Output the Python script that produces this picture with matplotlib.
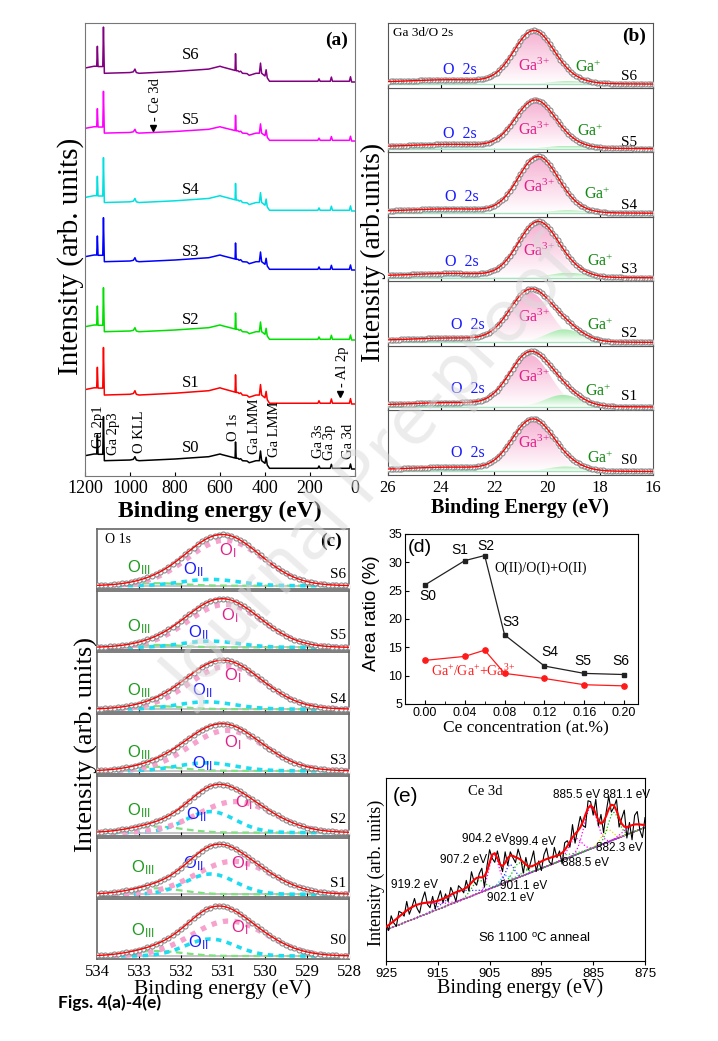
import numpy as np
import matplotlib.pyplot as plt
from matplotlib.colors import LinearSegmentedColormap
from matplotlib.ticker import MultipleLocator

W, H = 718, 1041
SERIF = ['Liberation Serif', 'DejaVu Serif']
SANS = ['Liberation Sans', 'DejaVu Sans']

plt.rcParams['font.family'] = SERIF
plt.rcParams['mathtext.fontset'] = 'custom'
plt.rcParams['mathtext.rm'] = 'Liberation Serif'
plt.rcParams['mathtext.sf'] = 'Liberation Sans'
plt.rcParams['mathtext.it'] = 'Liberation Serif:italic'
plt.rcParams['mathtext.bf'] = 'Liberation Serif:bold'

samples = ['S0', 'S1', 'S2', 'S3', 'S4', 'S5', 'S6']

survey_be = [1200, 1160, 1148, 1145, 1142, 1128, 1121, 1118, 1114, 1000, 985, 978, 972, 960,
             800, 650, 600, 590, 545, 533, 531, 528, 520, 515, 508, 500, 480, 470, 440, 425,
             420, 415, 400, 395, 390, 380, 165, 160, 155, 110, 105, 100, 25, 20, 15, 0]
survey_int = [13.3, 15, 15, 34, 14.7, 14.7, 14.7, 52.3, 8.3, 9, 9.7, 12.3, 9, 8.3,
              10, 12.3, 15, 14.3, 11.7, 11, 27, 10.7, 10.7, 9.7, 10.3, 8.3, 8, 6.3, 8.3, 8.3,
              18, 8.3, 5.7, 11.7, 4, 0.7, 0.7, 3, 0.7, 0.7, 4.7, 0.7, 0.7, 5, 0, 0]
survey_colors = ['black', '#ff0000', '#00e000', '#0000ff', '#00e0e0', '#ff00ff', '#800080']
survey_offset = [7, 72, 136, 206, 265, 335, 394]
survey_scale = [1.0, 1.08, 1.0, 1.0, 1.02, 0.95, 1.05]
survey_label_y = [28, 93, 156, 224, 286, 356, 421]
peak_names = ['Ga 2p1', 'Ga 2p3', 'O KLL', 'O 1s', 'Ga LMM', 'Ga LMM', 'Ga 3s', 'Ga 3p', 'Ga 3d']
peak_name_be = [1140, 1073, 958, 540, 447, 358, 164, 112, 30]
peak_name_y = [49, 42, 44, 49, 50, 47, 35, 34, 35]

# ---- (b) Ga 3d / O 2s fits
ga3_pos = [20.55, 20.65, 20.65, 20.35, 20.35, 20.45, 20.5]
ga3_amp = [50.5, 52, 50, 54, 55, 47, 52]
ga3_fwhm = [1.8, 1.8, 1.8, 1.75, 1.75, 1.75, 1.75]
gap_pos = [19.3, 19.4, 19.35, 19.2, 19.2, 19.2, 19.2]
gap_amp = [5, 12, 13, 5, 3, 3, 3]
gap_fwhm = [1.6, 1.6, 1.6, 1.6, 1.6, 1.6, 1.6]
o2s_pos = [23.5, 23.5, 23.5, 23.5, 23.5, 23.5, 23.5]
o2s_amp = [3, 3, 3, 3, 3, 3, 3]
o2s_fwhm = [3.5, 3.5, 3.5, 3.5, 3.5, 3.5, 3.5]
b_o2s_x = [22.98, 22.98, 22.98, 23.2, 23.2, 23.3, 23.3]
b_o2s_y = [22.3, 21, 20.7, 19.3, 19.3, 18.3, 17.7]
b_ga3_x = [20.5, 20.5, 20.5, 20.3, 20.3, 20.5, 20.5]
b_ga3_y = [31.7, 32.7, 28.3, 30, 29.3, 21.7, 21.7]
b_gap_x = [18.0, 18.05, 18.0, 18.0, 18.1, 18.35, 18.45]
b_gap_y = [16.7, 18.3, 20, 20, 21.7, 20, 19.4]
b_s_y = [14, 14.3, 12.3, 12, 11, 10, 11]

# ---- (c) O 1s fits
oi_pos = [530.85, 530.75, 530.7, 530.9, 530.9, 530.95, 530.95]
oi_amp = [35, 33, 31, 40.5, 43, 43, 45.5]
oi_fwhm = [2.1, 2.1, 2.1, 2.1, 2.1, 2.1, 2.1]
oii_pos = [531.3, 531.3, 531.3, 531.4, 531.4, 531.3, 531.3]
oii_amp = [17, 20.3, 21, 8, 7.3, 6.3, 6.3]
oii_fwhm = [1.4, 1.4, 1.4, 1.6, 1.6, 1.6, 1.6]
oiii_pos = [532.6, 532.6, 532.6, 532.6, 532.6, 532.6, 532.6]
oiii_amp = [5, 6, 6, 4, 3, 2.5, 2.5]
oiii_fwhm = [1.5, 1.5, 1.5, 1.5, 1.5, 1.5, 1.5]
c_oiii_x = [532.9, 532.9, 533.0, 533.0, 533.0, 533.0, 533.0]
c_oiii_y = [28.3, 29.3, 25, 21.7, 21.7, 23.3, 21]
c_oii_x = [531.6, 531.7, 531.65, 531.5, 531.5, 531.6, 531.7]
c_oii_y = [16, 33.3, 20.7, 10.7, 21, 17.3, 18.7]
c_oi_x = [530.6, 530.6, 530.5, 530.76, 530.76, 530.85, 530.88]
c_oi_y = [31.7, 34, 33.3, 31.7, 36, 35, 37.7]
c_s_y = [18.3, 14, 16, 13.3, 12.7, 15, 14.3]

# ---- (d) area ratios
ce_conc = [0.00, 0.04, 0.06, 0.08, 0.12, 0.16, 0.20]
oii_ratio = [26.0, 30.3, 31.2, 17.2, 11.7, 10.4, 10.2]
gap_ratio = [12.7, 13.4, 14.5, 10.4, 9.5, 8.4, 8.2]
d_ticks = [0.00, 0.04, 0.08, 0.12, 0.16, 0.20]
d_lab_x = [0.0033, 0.0347, 0.0612, 0.0858, 0.1256, 0.1587, 0.1967]
d_lab_y = [24.0, 32.2, 32.8, 19.55, 14.2, 12.6, 12.5]

# ---- (e) Ce 3d, S6
ce_pos = [919.2, 911.0, 907.2, 904.2, 902.1, 901.1, 899.4, 894.0, 888.5, 885.5, 882.3, 881.1, 877.5]
ce_amp = [7, 5, 7, 18, 4, 9, 8, 4, 9, 23, 7, 15, 4]
ce_fwhm = [8, 6, 3, 2.2, 2, 2, 2.5, 8, 3, 3, 2.5, 2.5, 4]
ce_base = [17, 73]          # straight background at 925 and 875 eV
ce_resid = [2, -3, 4, -1, -4, 3, 1, -2, 5, -3,
            0, 4, -2, -5, 2, 6, -1, -3, 3, -4,
            1, 5, -2, 2, -3, 4, 0, -5, 3, 1,
            -2, 4, -3, 6, -1, -4, 2, 5, -6, 3,
            7, -2, -5, 4, 1, -3, 6, -4, 2, -1,
            -3, 5, 1, -6, 4, -2, 3, 8, -4, 1,
            -5, 3, 6, -2, -4, 5, -1, 2, -6, 4,
            3, -3, 7, -5, 1, 6, -2, -7, 4, 2,
            -4, 8, -3, 5, -6, 2, 7, -4, -1, 6,
            -5, 3, 9, -6, 2, -8, 5, 7, -3, -7, 4]
e_labels = ['885.5 eV', '881.1 eV', '904.2 eV', '899.4 eV', '907.2 eV', '888.5 eV',
            '882.3 eV', '901.1 eV', '902.1 eV', '919.2 eV']
e_lab_x = [888.3, 878.6, 905.8, 896.8, 910.0, 886.5, 879.9, 898.4, 901.0, 919.5]
e_lab_y = [90.9, 90.9, 66.5, 65.0, 55.0, 53.8, 61.5, 41.0, 34.5, 41.5]


def box(l, t, r, b):
    return [l / W, 1 - b / H, (r - l) / W, (b - t) / H]


def peak(x, c, h, w):
    # gaussian component used by the fits
    return h * np.exp(-4 * np.log(2) * ((x - c) / w) ** 2)


def grad_fill(ax, x, y0, y1, color, z):
    cmap = LinearSegmentedColormap.from_list('g', ['white', color])
    poly = ax.fill_between(x, y0, y1, color='none', lw=0)
    img = ax.imshow(np.linspace(0, 1, 64).reshape(-1, 1), cmap=cmap, aspect='auto',
                    origin='lower', extent=[x.min(), x.max(), np.min(y0), np.max(y1)],
                    zorder=z, interpolation='bilinear')
    img.set_clip_path(poly.get_paths()[0], transform=ax.transData)


fig = plt.figure(figsize=(W / 100, H / 100), dpi=100)

# ================= (a)
ax = fig.add_axes(box(85, 23, 355, 476))
for i in range(7):
    y = survey_offset[i] + survey_scale[i] * np.array(survey_int)
    ax.plot(survey_be, y, color=survey_colors[i], lw=1.1)
    ax.text(730, survey_label_y[i], samples[i], fontsize=12, ha='center', va='center')
for name, xb, yb in zip(peak_names, peak_name_be, peak_name_y):
    ax.text(xb, yb, name, rotation=90, fontsize=10.5, ha='center', va='center')
ax.text(887, 376, '- Ce 3d', rotation=90, fontsize=10.5, ha='center', va='center')
ax.plot([897], [348], marker='v', color='k', ms=4.5)
ax.text(57, 109, '- Al 2p', rotation=90, fontsize=10.5, ha='center', va='center')
ax.plot([67], [82], marker='v', color='k', ms=4.5)
ax.text(0.93, 0.962, '(a)', transform=ax.transAxes, fontsize=14, fontweight='bold',
        ha='center', va='center')
ax.set_xlim(1200, 0)
ax.set_ylim(0, 453)
ax.set_xticks([1200, 1000, 800, 600, 400, 200, 0])
ax.set_yticks([])
ax.tick_params(axis='x', direction='in', length=3, labelsize=13, pad=3)
for s in ax.spines.values():
    s.set_color('#777777')
fig.text(220 / W, 1 - 511 / H, 'Binding energy (eV)', fontsize=17, fontweight='bold',
         ha='center', va='center')
fig.text(71 / W, 1 - 256 / H, 'Intensity (arb. units)', fontsize=21, rotation=90,
         ha='center', va='center')

# ================= (b)
xb = np.arange(16, 26.001, 0.1)
hb = (475 - 23) / 7
for i in range(7):
    top = 23 + (6 - i) * hb
    ax = fig.add_axes(box(388, top, 653, top + hb))
    base = 3.5
    bg = 0.18 * (xb - 16)
    ga3 = peak(xb, ga3_pos[i], ga3_amp[i], ga3_fwhm[i])
    gap = peak(xb, gap_pos[i], gap_amp[i], gap_fwhm[i])
    o2s = peak(xb, o2s_pos[i], o2s_amp[i], o2s_fwhm[i])
    env = base + bg + ga3 + gap + o2s
    ax.fill_between(xb, base, base + o2s + bg, color='#cff5f5', lw=0, zorder=1)
    grad_fill(ax, xb, np.full_like(xb, base), base + ga3, '#f6b3d3', 2)
    grad_fill(ax, xb, np.full_like(xb, base), base + gap, '#a6e9ad', 3)
    ax.plot(xb, np.full_like(xb, base), color='#a8e0c0', lw=1.0, zorder=3)
    ax.plot(xb, env, 'o', ms=3.6, mfc='white', mec='#8a8a8a', mew=0.8, zorder=4)
    ax.plot(xb, env, color='red', lw=1.0, zorder=5)
    ax.text(b_o2s_x[i], b_o2s_y[i], 'O  2s', color='#1a1aff', fontsize=11.5, ha='center', va='center')
    ax.text(b_ga3_x[i], b_ga3_y[i], r'Ga$^{3{+}}$', color='#e0208a', fontsize=11.5, ha='center', va='center')
    ax.text(b_gap_x[i], b_gap_y[i], r'Ga$^{+}$', color='#138a13', fontsize=11.5, ha='center', va='center')
    ax.text(16.9, b_s_y[i], samples[i], fontsize=11, ha='center', va='center')
    if i == 6:
        ax.text(0.02, 0.84, 'Ga 3d/O 2s', transform=ax.transAxes, fontsize=9.5, va='center')
        ax.text(0.93, 0.8, '(b)', transform=ax.transAxes, fontsize=14, fontweight='bold',
                ha='center', va='center')
    ax.set_xlim(26, 16)
    ax.set_ylim(0, hb)
    ax.set_xticks([26, 24, 22, 20, 18, 16])
    ax.set_yticks([])
    ax.tick_params(axis='x', direction='in', length=3, labelsize=12, labelbottom=(i == 0))
    for s in ax.spines.values():
        s.set_color('#555555')
fig.text(520 / W, 1 - 508 / H, 'Binding Energy (eV)', fontsize=14.5, fontweight='bold',
         ha='center', va='center')
fig.text(373 / W, 1 - 252 / H, 'Intensity (arb.units)', fontsize=20, rotation=90,
         ha='center', va='center')

# ================= (c)
xc = np.arange(528, 534.001, 0.1)
hc = (960 - 528) / 7
for i in range(7):
    top = 528 + (6 - i) * hc
    ax = fig.add_axes(box(97, top + 1, 349, top + hc - 1))
    base = 3.0
    oi = peak(xc, oi_pos[i], oi_amp[i], oi_fwhm[i])
    oii = peak(xc, oii_pos[i], oii_amp[i], oii_fwhm[i])
    oiii = peak(xc, oiii_pos[i], oiii_amp[i], oiii_fwhm[i])
    env = base + oi + oii + oiii
    ax.plot(xc, np.full_like(xc, base), color='#bbbbbb', lw=1.2, zorder=1)
    ax.plot(xc, base + oiii, color='#80e080', lw=1.6, dashes=(3, 2), zorder=2)
    ax.plot(xc, base + oii, color='#1edcf0', lw=2.6, dashes=(1.5, 1.5), zorder=2)
    ax.plot(xc, base + oi, color='#f6a2cd', lw=3.8, dashes=(1.0, 1.2), zorder=2)
    ax.plot(xc, env, 'o', ms=3.6, mfc='white', mec='#8a8a8a', mew=0.8, zorder=4)
    ax.plot(xc, env, color='red', lw=1.0, zorder=5)
    ax.text(c_oiii_x[i], c_oiii_y[i], r'$\mathsf{O_{III}}$', color='#1e9a1e', fontsize=12,
            ha='center', va='center')
    ax.text(c_oii_x[i], c_oii_y[i], r'$\mathsf{O_{II}}$', color='#1a1aff', fontsize=12,
            ha='center', va='center')
    ax.text(c_oi_x[i], c_oi_y[i], r'$\mathsf{O_{I}}$', color='#e0208a', fontsize=12,
            ha='center', va='center')
    ax.text(528.26, c_s_y[i], samples[i], fontsize=11, ha='center', va='center')
    if i == 6:
        ax.text(0.03, 0.82, 'O 1s', transform=ax.transAxes, fontsize=10, va='center')
        ax.text(0.93, 0.8, '(c)', transform=ax.transAxes, fontsize=14, fontweight='bold',
                ha='center', va='center')
    ax.set_xlim(534, 528)
    ax.set_ylim(0, hc - 2)
    ax.set_xticks([534, 533, 532, 531, 530, 529, 528])
    ax.set_yticks([])
    ax.tick_params(axis='x', direction='in', length=3, labelsize=12, labelbottom=(i == 0))
    for s in ax.spines.values():
        s.set_color('#666666')
        s.set_linewidth(1.2)
fig.text(223 / W, 1 - 989 / H, 'Binding energy (eV)', fontsize=15.5, ha='center', va='center')
fig.text(86 / W, 1 - 745 / H, 'Intensity (arb. units)', fontsize=19, rotation=90,
         ha='center', va='center')

# ================= (d)
ax = fig.add_axes(box(405, 534, 638, 704))
ax.plot(ce_conc, oii_ratio, '-s', color='#222222', ms=3.5, lw=0.9)
ax.plot(ce_conc, gap_ratio, '-o', color='#ff1a1a', ms=3.8, lw=0.9)
for s, xl, yl in zip(samples, d_lab_x, d_lab_y):
    ax.text(xl, yl, s, family=SANS, fontsize=10, ha='center', va='center')
ax.text(0.0694, 29.0, 'O(II)/O(I)+O(II)', fontsize=10, ha='left', va='center')
ax.text(0.0066, 10.9, r'Ga$^{+}$/Ga$^{+}$+Ga$^{3{+}}$', color='#ff1a1a', fontsize=10,
        ha='left', va='center')
ax.text(-0.005, 32.6, '(d)', family=SANS, fontsize=14, ha='center', va='center')
ax.set_xlim(-0.02, 0.214)
ax.set_ylim(5, 35)
ax.set_xticks(d_ticks)
ax.xaxis.set_minor_locator(MultipleLocator(0.02))
ax.set_yticks([5, 10, 15, 20, 25, 30, 35])
ax.set_xticklabels(['%.2f' % t for t in d_ticks])
for lab in ax.get_xticklabels() + ax.get_yticklabels():
    lab.set_family(SANS)
ax.tick_params(labelsize=9, length=3, direction='in', pad=2)
ax.tick_params(which='minor', length=2, direction='in')
fig.text(526 / W, 1 - 728 / H, 'Ce concentration (at.%)', fontsize=12.5, ha='center', va='center')
fig.text(371 / W, 1 - 613 / H, 'Area ratio (%)', family=SANS, fontsize=13.5, rotation=90,
         ha='center', va='center')

# ================= (e)
ax = fig.add_axes(box(386, 778, 645, 961))
xe = np.linspace(925, 875, len(ce_resid))
base_e = ce_base[0] + (ce_base[1] - ce_base[0]) * (925 - xe) / 50
comp_colors = ['#ff00ff', '#3030ff', '#00c000', '#ff00ff', '#00d0d0', '#3030ff',
               '#00c000', '#33cc33', '#ff00ff', '#ff00ff', '#e0e000', '#00c000', '#ff00ff']
fit_e = base_e.copy()
for c, h, w, col in zip(ce_pos, ce_amp, ce_fwhm, comp_colors):
    comp = peak(xe, c, h, w)
    fit_e += comp
    ax.plot(xe, base_e + comp, color=col, lw=0.9, ls=':', zorder=2)
ax.plot(xe, base_e, color='#a8a8a8', lw=1.0, zorder=1)
ax.plot(xe, fit_e + np.array(ce_resid), color='black', lw=0.8, zorder=3)
ax.plot(xe, fit_e, color='#ff0000', lw=1.5, zorder=4)
for t, xl, yl in zip(e_labels, e_lab_x, e_lab_y):
    ax.text(xl, yl, t, family=SANS, fontsize=8.5, ha='center', va='center')
ax.text(905.8, 92.7, 'Ce 3d', fontsize=10.5, ha='center', va='center')
ax.text(896.4, 12.7, r'S6 1100 $^{\mathsf{o}}$C anneal', family=SANS, fontsize=9.5,
        ha='center', va='center')
ax.text(0.075, 0.9, '(e)', transform=ax.transAxes, family=SANS, fontsize=15,
        ha='center', va='center')
ax.set_xlim(925, 875)
ax.set_ylim(0, 100)
ax.set_xticks([925, 915, 905, 895, 885, 875])
ax.set_yticks([])
for lab in ax.get_xticklabels():
    lab.set_family(SANS)
ax.tick_params(labelsize=9.5, length=3, pad=2)
fig.text(520 / W, 1 - 988 / H, 'Binding energy (eV)', fontsize=14.5, ha='center', va='center')
fig.text(376 / W, 1 - 873 / H, 'Intensity (arb. units)', fontsize=13, rotation=90,
         ha='center', va='center')

# watermark and caption
fig.text(375 / W, 1 - 475 / H, 'Journal Pre-proof', family=['Noto Sans', 'DejaVu Sans'],
         fontsize=52, rotation=48, color='#d9d9d9', alpha=0.5, ha='center', va='center',
         rotation_mode='anchor', zorder=10)
fig.text(58 / W, 1 - 1003 / H, 'Figs. 4(a)-4(e)', family=['Lato', 'DejaVu Sans'],
         fontsize=12.5, fontweight='bold', ha='left', va='center')

fig.savefig('out.png', dpi=100)
